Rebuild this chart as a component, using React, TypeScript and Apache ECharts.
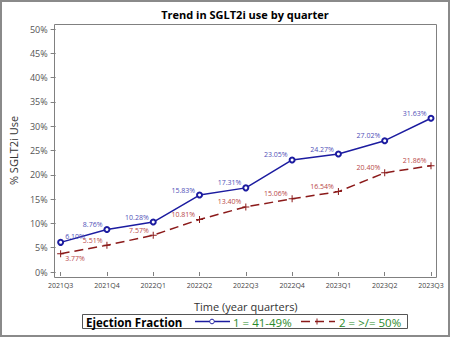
import React, { useEffect, useRef } from "react";
import * as echarts from "echarts";

const quarters = ["2021Q3", "2021Q4", "2022Q1", "2022Q2", "2022Q3", "2022Q4", "2023Q1", "2023Q2", "2023Q3"];
const ef4149 = [6.10, 8.76, 10.28, 15.83, 17.31, 23.05, 24.27, 27.02, 31.63];
const ef50 = [3.77, 5.51, 7.57, 10.81, 13.40, 15.06, 16.54, 20.40, 21.86];
const seriesNames = ["1 = 41-49%", "2 = >/= 50%"];

const FONT = "'Open Sans', 'Noto Sans', sans-serif";
const PLUS = "path://M3,0h1v3h3v1h-3v3h-1v-3h-3v-1h3z";

export default function App() {
  const ref = useRef<HTMLDivElement>(null);
  useEffect(() => {
    if (!ref.current) return;
    const chart = echarts.init(ref.current, undefined, { renderer: "svg" });
    const mkData = (vals: number[], first: "up" | "down") =>
      vals.map((v, i) => ({
        value: v,
        label:
          i === 0
            ? { position: "right", distance: 1, offset: [0, first === "up" ? -6 : 5] }
            : undefined,
      }));
    chart.setOption({
      animation: false,
      textStyle: { fontFamily: FONT },
      grid: { left: 59, right: 19, top: 29, bottom: 65 },
      xAxis: {
        type: "category",
        data: quarters,
        boundaryGap: false,
        offset: 5,
        name: "Time (year quarters)",
        nameLocation: "middle",
        nameGap: 24,
        nameTextStyle: { fontSize: 11, color: "#333", fontFamily: FONT },
        axisLine: { show: false },
        axisTick: { show: true, length: 4, lineStyle: { color: "#808080" } },
        axisLabel: { fontSize: 7, color: "#444", margin: 5, fontFamily: FONT },
        splitLine: { show: false },
      },
      yAxis: {
        type: "value",
        min: 0,
        max: 50,
        interval: 5,
        offset: 5,
        name: "% SGLT2i Use",
        nameLocation: "middle",
        nameGap: 34,
        nameTextStyle: { fontSize: 11, color: "#333", fontFamily: FONT },
        axisLine: { show: false },
        axisTick: { show: true, length: 5, lineStyle: { color: "#808080" } },
        axisLabel: { fontSize: 9, color: "#555", margin: 8, formatter: "{value}%", fontFamily: FONT },
        splitLine: { show: false },
      },
      series: [
        {
          name: seriesNames[0],
          type: "line",
          data: mkData(ef4149, "up"),
          symbol: "emptyCircle",
          symbolSize: 5,
          itemStyle: { color: "#1c1ca0", borderWidth: 1 },
          lineStyle: { color: "#1c1ca0", width: 1.5 },
          label: {
            show: true,
            position: "left",
            distance: 1,
            offset: [0, -5],
            fontSize: 7,
            color: "#5050b8",
            fontFamily: FONT,
            formatter: (p: any) => p.value.toFixed(2) + "%",
          },
          z: 3,
        },
        {
          name: seriesNames[1],
          type: "line",
          data: mkData(ef50, "down"),
          symbol: PLUS,
          symbolSize: 7,
          itemStyle: { color: "#8b1a1a" },
          lineStyle: { color: "#8b1a1a", width: 1.5, type: [9, 5] },
          label: {
            show: true,
            position: "left",
            distance: 1,
            offset: [0, -5],
            fontSize: 7,
            color: "#b84848",
            fontFamily: FONT,
            formatter: (p: any) => p.value.toFixed(2) + "%",
          },
          z: 2,
        },
      ],
      graphic: [
        { type: "rect", shape: { x: 1, y: 1, width: 448, height: 335 }, style: { fill: "none", stroke: "#8a8a8a", lineWidth: 2 }, silent: true },
        { type: "rect", shape: { x: 54.5, y: 24.5, width: 382, height: 253 }, style: { fill: "none", stroke: "#808080", lineWidth: 1 }, silent: true },
        { type: "text", x: 245, y: 14, style: { text: "Trend in SGLT2i use by quarter", font: `bold 11px ${FONT}`, fill: "#000", textAlign: "center", textVerticalAlign: "middle" } },
        { type: "rect", shape: { x: 82.5, y: 314.5, width: 325, height: 14 }, style: { fill: "#fff", stroke: "#555", lineWidth: 1 } },
        { type: "text", x: 86, y: 322, style: { text: "Ejection Fraction", font: `bold 11.5px ${FONT}`, fill: "#000", textVerticalAlign: "middle" } },
        { type: "line", shape: { x1: 195, y1: 321.5, x2: 230, y2: 321.5 }, style: { stroke: "#1c1ca0", lineWidth: 1.5 } },
        { type: "circle", shape: { cx: 212, cy: 321.5, r: 2.3 }, style: { fill: "#fff", stroke: "#1c1ca0", lineWidth: 1 } },
        { type: "text", x: 233, y: 322, style: { text: seriesNames[0], font: `11.5px ${FONT}`, fill: "#2a8a2a", textVerticalAlign: "middle" } },
        { type: "line", shape: { x1: 301, y1: 321.5, x2: 335, y2: 321.5 }, style: { stroke: "#8b1a1a", lineWidth: 1.5, lineDash: [9, 5] } },
        { type: "line", shape: { x1: 317, y1: 318.5, x2: 317, y2: 324.5 }, style: { stroke: "#8b1a1a", lineWidth: 1 } },
        { type: "text", x: 339, y: 322, style: { text: seriesNames[1], font: `11.5px ${FONT}`, fill: "#2a8a2a", textVerticalAlign: "middle" } },
      ],
    });
    return () => chart.dispose();
  }, []);
  return (
    <div
      ref={ref}
      style={{ position: "fixed", left: 0, top: 0, width: 450, height: 337, background: "#fff" }}
    />
  );
}
